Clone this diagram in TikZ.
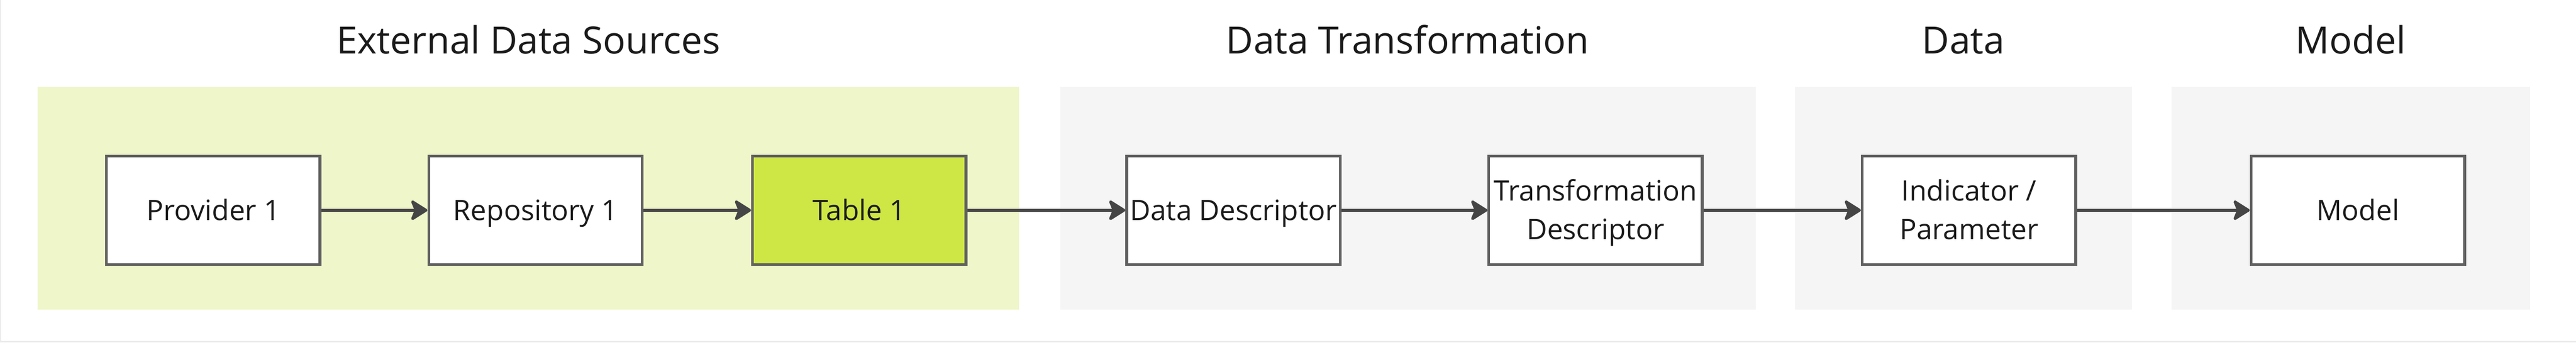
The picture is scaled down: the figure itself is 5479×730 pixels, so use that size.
\documentclass[tikz,border=0pt]{standalone}
\usepackage{fontspec}
\setmainfont{Open Sans}
\usetikzlibrary{arrows.meta}
\definecolor{panelgreen}{HTML}{EFF6C9}
\definecolor{panelgray}{HTML}{F5F5F5}
\definecolor{tablegreen}{HTML}{CFE745}
\definecolor{boxborder}{HTML}{606060}
\definecolor{arrowcol}{HTML}{454545}
\definecolor{textcol}{HTML}{1A1A1A}
\definecolor{framecol}{HTML}{EBEBEB}
\begin{document}
\begin{tikzpicture}[x=1pt,y=-1pt,
  stagebox/.style={draw=boxborder, line width=6pt, fill=white, minimum width=454pt, minimum height=231pt, inner sep=0pt},
  boxtext/.style={font=\fontsize{60}{82}\selectfont, text=textcol, inner sep=0pt, anchor=base, align=center},
  paneltitle/.style={font=\fontsize{80}{100}\selectfont, text=textcol, inner sep=0pt, anchor=base},
  flow/.style={draw=arrowcol, line width=6pt, -{Stealth[length=40pt, width=50pt, inset=10pt, round]}}
]
\useasboundingbox (0,0) rectangle (5479,730);
\fill[white] (0,0) rectangle (5479,730);
\draw[framecol, line width=2pt] (1,0) -- (1,730);
\draw[framecol, line width=3.5pt] (0,728.3) -- (5479,728.3);

% panels
\fill[panelgreen] (80,185) rectangle (2168,660);
\fill[panelgray] (2255,185) rectangle (3734,660);
\fill[panelgray] (3818,185) rectangle (4534,660);
\fill[panelgray] (4619,185) rectangle (5381,660);

% titles
\node[paneltitle] (t1) at (1124,114) {External Data Sources};
\node[paneltitle] (t2) at (2994,114) {Data Transformation};
\node[paneltitle] (t3) at (4176,114) {Data};
\node[paneltitle] (t4) at (5000,114) {Model};

% boxes
\node[stagebox] (prov) at (453.5,448) {};
\node[stagebox] (repo) at (1139,448) {};
\node[stagebox, fill=tablegreen] (tab) at (1827.5,448) {};
\node[stagebox] (ddesc) at (2623.5,448) {};
\node[stagebox] (tdesc) at (3393.5,448) {};
\node[stagebox] (ind) at (4188,448) {};
\node[stagebox] (model) at (5015,448) {};

% labels
\node[boxtext] (prov-l) at (453.5,469) {Provider 1};
\node[boxtext] (repo-l) at (1139,469) {Repository 1};
\node[boxtext] (tab-l) at (1827.5,469) {Table 1};
\node[boxtext] (ddesc-l) at (2623.5,469) {Data Descriptor};
\node[boxtext] (tdesc-l) at (3393.5,510) {Transformation\\Descriptor};
\node[boxtext] (ind-l) at (4188,510) {Indicator /\\Parameter};
\node[boxtext] (model-l) at (5015,469) {Model};

% connectors
\draw[flow] (prov) -- (repo);
\draw[flow] (repo) -- (tab);
\draw[flow] (tab) -- (ddesc);
\draw[flow] (ddesc) -- (tdesc);
\draw[flow] (tdesc) -- (ind);
\draw[flow] (ind) -- (model);
\end{tikzpicture}
\end{document}
